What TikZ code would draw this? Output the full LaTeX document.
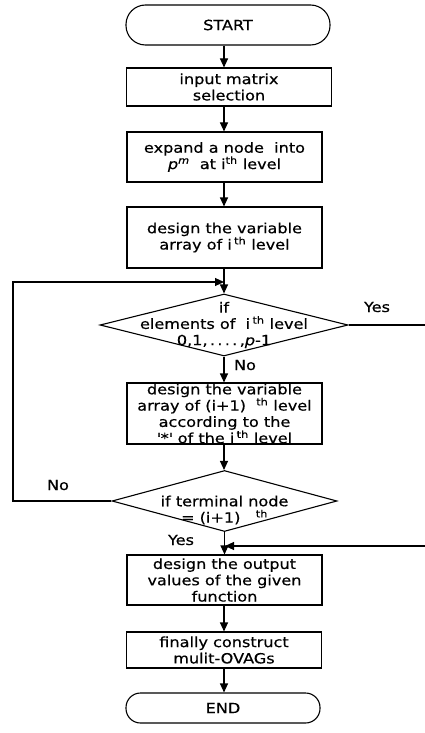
\documentclass[tikz,border=0pt]{standalone}
\usepackage{fontspec}
\setmainfont{DejaVu Sans}[FakeStretch=1.15,FakeBold=0.5]
\usetikzlibrary{shapes.geometric,arrows.meta}
\begin{document}
\begin{tikzpicture}[x=1pt,y=-1pt,
  font=\fontsize{14}{16.3}\selectfont,
  ln/.style={line width=1.1pt},
  arr/.style={ln,-{Triangle[length=9pt,width=8pt]}},
  procbox/.style={draw,ln,inner sep=0pt,align=center},
  termbox/.style={draw,ln,inner sep=0pt,align=center,rounded corners=19.5pt},
  decbox/.style={draw,ln,diamond,inner sep=0pt},
  txt/.style={inner sep=0pt,align=center}]
\useasboundingbox (0,0) rectangle (425,733);
\fill[white] (0,0) rectangle (425,733);

\node[termbox,minimum width=204pt,minimum height=40pt] (start) at (228,25) {START};
\node[procbox,minimum width=205pt,minimum height=38pt] (b1) at (229,87) {input matrix\\selection};
\node[procbox,minimum width=195pt,minimum height=50pt] (b2) at (224.5,157) {expand a node\ \ into\\{\itshape p}\textsuperscript{\itshape m}\ \ at i\textsuperscript{th} level};
\node[procbox,minimum width=195pt,minimum height=61pt] (b3) at (224.5,237.5) {design the variable\\array of i\,\textsuperscript{th} level};
\node[decbox,minimum width=248pt,minimum height=62pt] (d1) at (224,325) {};
\node[txt] (d1t) at (224,325) {if\\elements of\ \ i\,\textsuperscript{th} level\\0,1,\,.\,.\,.\,.\,,{\itshape p}-1};
\node[procbox,minimum width=195pt,minimum height=61pt] (b4) at (224.5,413.5) {design the variable\\array of (i+1)\ \ \textsuperscript{th} level\\according to the\\\textquotesingle*\textquotesingle\ of the i\,\textsuperscript{th} level};
\node[decbox,minimum width=225pt,minimum height=61pt] (d2) at (224.5,501) {};
\node[txt] (d2t) at (224.5,510) {if terminal node\\= (i+1)\ \ \ \textsuperscript{th}};
\node[procbox,minimum width=195pt,minimum height=50pt] (b5) at (224.5,580) {design the output\\values of the given\\function};
\node[procbox,minimum width=195pt,minimum height=36pt] (b6) at (224,650) {finally construct\\mulit-OVAGs};
\node[termbox,minimum width=194pt,minimum height=30pt,rounded corners=14.5pt] (end) at (223,708) {END};

\node[txt] (yes1) at (377,307) {Yes};
\node[txt] (no1) at (245,365) {No};
\node[txt] (no2) at (58,485) {No};
\node[txt] (yes2) at (181,540) {Yes};

\coordinate (ax) at (224,0);
\coordinate (lp) at (13,282);
\coordinate (lj) at (224,282);
\coordinate (yesout) at (425,325);
\coordinate (yesin) at (425,546);
\coordinate (yj) at (225,546);

\draw[arr] (start.south -| ax) -- (b1.north -| ax);
\draw[arr] (b1.south -| ax) -- (b2.north -| ax);
\draw[arr] (b2.south -| ax) -- (b3.north -| ax);
\draw[arr] (b3.south -| ax) -- (d1.north);
\draw[ln] (d1.east) -- (yesout);
\draw[arr] (d1.south) -- (b4.north -| d1.south);
\draw[arr] (b4.south -| ax) -- (d2.north -| ax);
\draw[arr] (d2.west) -| (lp) -- (lj);
\draw[arr] (d2.south) -- (b5.north -| d2.south);
\draw[arr] (yesin) -- (yj);
\draw[arr] (b5.south -| ax) -- (b6.north -| ax);
\draw[arr] (b6.south -| ax) -- (end.north -| ax);
\end{tikzpicture}
\end{document}
